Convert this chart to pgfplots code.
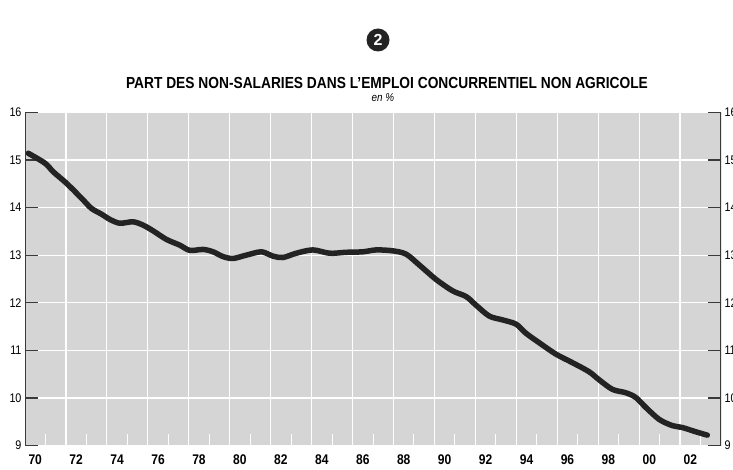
\documentclass[border=0pt]{standalone}
\usepackage{fontspec}
\setmainfont{Liberation Sans}
\newfontfamily\condfont[FakeStretch=0.86]{Liberation Sans}
\usepackage{pgfplots}
\pgfplotsset{compat=1.18}
\definecolor{bg}{HTML}{D5D5D5}
\definecolor{ln}{HTML}{232323}
\definecolor{ax}{HTML}{3A3A3A}
\begin{document}
\begin{tikzpicture}[x=1pt,y=1pt]
\begin{axis}[
  scale only axis, width=696pt, height=333.3pt,
  at={(25pt,23.4pt)}, anchor=south west,
  xmin=1970, xmax=2004, ymin=9, ymax=16,
  axis background/.style={fill=bg},
  axis line style={draw=none},
  /pgf/number format/assume math mode=true,
  xtick={1970.5,1972.5,...,2002.5},
  xticklabels={70,72,74,76,78,80,82,84,86,88,90,92,94,96,98,00,02},
  xtick pos=left,
  major x tick style={draw=none},
  minor xtick={1971,1973,...,2003},
  minor x tick style={white, line width=1pt},
  minor tick length=12pt,
  extra x ticks={1972,1974,...,2002},
  extra x tick labels={},
  extra x tick style={grid=major, major x tick style={draw=none}},
  ytick={9,...,16},
  ymajorgrids,
  major grid style={white, line width=1.2pt},
  ytick pos=both,
  ytick align=inside,
  major tick length=13pt,
  major y tick style={ax, line width=1.2pt},
  xticklabel style={font=\condfont\bfseries\fontsize{14}{14}\selectfont, text=black, yshift=-6pt},
  yticklabel style={font=\condfont\fontsize{12.5}{12.5}\selectfont, text=black},
]
\addplot[ln, line width=5.5pt, smooth, tension=0.5, line cap=round, line join=round] table {
1970.16 15.14
1970.98 14.93
1971.38 14.75
1971.95 14.54
1972.36 14.37
1972.84 14.16
1973.25 13.98
1973.74 13.86
1974.15 13.75
1974.63 13.67
1975.28 13.70
1975.77 13.63
1976.26 13.51
1976.91 13.33
1977.56 13.21
1978.05 13.10
1978.70 13.12
1979.19 13.07
1979.67 12.97
1980.16 12.93
1980.81 13.00
1981.55 13.07
1982.11 12.98
1982.60 12.95
1983.25 13.04
1984.06 13.11
1984.88 13.04
1985.69 13.06
1986.50 13.07
1987.16 13.11
1987.97 13.09
1988.62 13.02
1989.27 12.79
1990.08 12.49
1990.89 12.25
1991.55 12.13
1992.03 11.95
1992.68 11.72
1993.33 11.64
1993.99 11.55
1994.47 11.36
1995.12 11.16
1995.94 10.92
1996.75 10.74
1997.56 10.55
1998.05 10.38
1998.70 10.18
1999.35 10.11
1999.84 10.01
2000.33 9.80
2000.98 9.55
2001.62 9.42
2002.11 9.38
2002.77 9.29
2003.33 9.22
};
\draw[ax, line width=1.3pt] (rel axis cs:0,0) -- (rel axis cs:0,1);
\draw[ax, line width=1.3pt] (rel axis cs:1,0) -- (rel axis cs:1,1);
\end{axis}
\begin{axis}[
  scale only axis, width=696pt, height=333.3pt,
  at={(25pt,23.4pt)}, anchor=south west,
  xmin=1970, xmax=2004, ymin=9, ymax=16,
  axis line style={draw=none},
  /pgf/number format/assume math mode=true,
  xtick=\empty,
  ytick={9,...,16},
  yticklabel pos=right,
  major y tick style={draw=none},
  yticklabel style={font=\condfont\fontsize{12.5}{12.5}\selectfont, text=black},
]
\end{axis}
\fill[ln] (378,429) circle (11.5);
\node[white, font=\bfseries\fontsize{16}{16}\selectfont] at (378,429) {2};
\node[font=\condfont\bfseries\fontsize{16}{16}\selectfont] at (387,386) {PART DES NON-SALARIES DANS L’EMPLOI CONCURRENTIEL NON AGRICOLE};
\node[font=\condfont\itshape\fontsize{11.5}{11.5}\selectfont] at (383,371) {en \%};
\pgfresetboundingbox
\path[use as bounding box] (0,0) rectangle (733,469);
\end{tikzpicture}
\end{document}
